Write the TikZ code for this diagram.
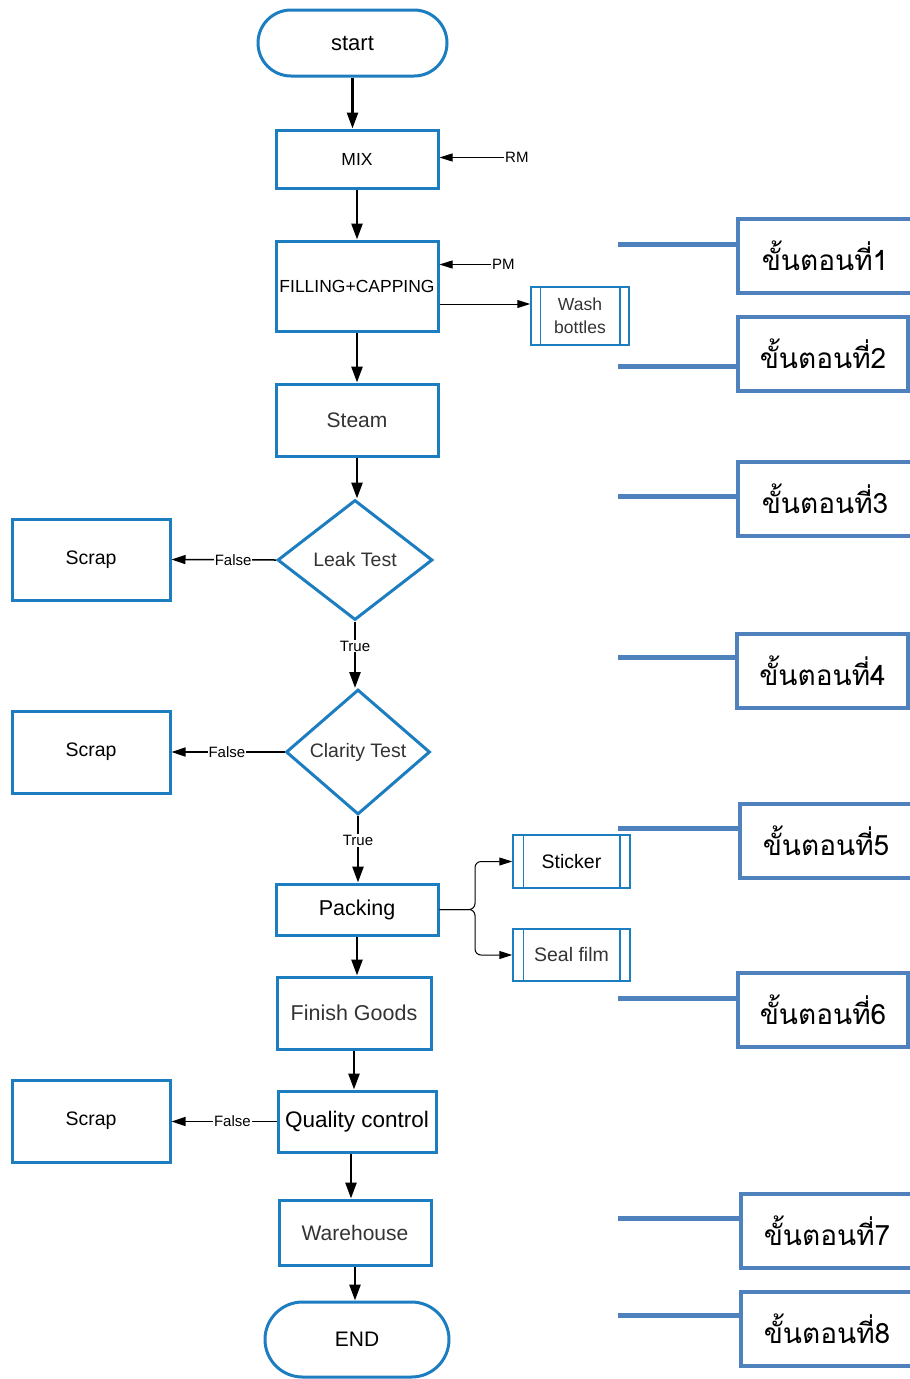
\documentclass[tikz,border=0pt]{standalone}
\usepackage{fontspec}
\setmainfont{Liberation Sans}
\newfontfamily\thaifont[Script=Thai]{Loma}
\usetikzlibrary{positioning,shapes.geometric,shapes.misc,arrows.meta}
\definecolor{flowblue}{HTML}{1C7DC0}
\definecolor{stepblue}{HTML}{4F81BD}
\definecolor{textgray}{HTML}{333333}

\begin{document}
\begin{tikzpicture}[x=1pt, y=-1pt,
terminal/.style={rounded rectangle, draw=flowblue, line width=3pt, inner sep=1pt, font=\fontsize{22}{26}\selectfont},
process/.style={rectangle, draw=flowblue, line width=3pt, inner sep=1pt, minimum width=162pt, font=\fontsize{21}{25}\selectfont},
decision/.style={diamond, draw=flowblue, line width=3pt, inner sep=0pt, text=textgray, font=\fontsize{19.5}{23}\selectfont},
subproc/.style={rectangle, draw=flowblue, line width=1.5pt, inner sep=1pt, text=textgray, font=\fontsize{19.5}{23}\selectfont},
stepbox/.style={rectangle, draw=stepblue, line width=4pt, minimum height=74pt, inner sep=0pt, font=\thaifont\fontsize{28}{32}\selectfont},
lbl/.style={inner sep=1pt, font=\fontsize{15}{18}\selectfont},
flow/.style={-{Triangle[length=16pt, width=11pt]}, line width=2.5pt},
thinflow/.style={-{Triangle[length=13pt, width=8pt]}, line width=1pt},
falseflow/.style={-{Triangle[length=14pt, width=9pt]}, line width=1.5pt},
stepline/.style={draw=stepblue, line width=5pt}]

\clip (0,0) rectangle (910,1379);

% main chain
\node[terminal, minimum width=191pt, minimum height=66pt] (start) at (352.5,43) {start};
\node[process, minimum height=58pt, font=\fontsize{17.5}{21}\selectfont] (mix) at (357,159) {MIX};
\node[process, minimum height=90pt, font=\fontsize{17.5}{21}\selectfont] (fill) at (357,286) {FILLING+CAPPING};
\node[process, minimum height=72pt, text=textgray] (steam) at (357,420) {Steam};
\node[decision, minimum width=155pt, minimum height=120pt] (leak) at (355,560) {Leak Test};
\node[decision, minimum width=144pt, minimum height=125pt] (clarity) at (358,752) {Clarity Test};
\node[process, minimum height=51pt, font=\fontsize{21.5}{25}\selectfont] (pack) at (357,909.5) {Packing};
\node[process, minimum width=154pt, minimum height=72pt, text=textgray, font=\fontsize{21.5}{25}\selectfont] (finish) at (354,1013) {Finish Goods};
\node[process, minimum width=158pt, minimum height=61pt, font=\fontsize{22.5}{26}\selectfont] (qc) at (357,1121.5) {Quality control};
\node[process, minimum width=152pt, minimum height=65pt, text=textgray] (wh) at (355,1232.5) {Warehouse};
\node[terminal, minimum width=186pt, minimum height=75pt, font=\fontsize{21}{25}\selectfont] (end) at (357,1339.5) {END};

% scrap boxes
\node[process, minimum width=158pt, minimum height=81pt, font=\fontsize{19.5}{23}\selectfont] (scrapa) at (91,559.5) {Scrap};
\node[process, minimum width=158pt, minimum height=82pt, font=\fontsize{19.5}{23}\selectfont] (scrapb) at (91,752) {Scrap};
\node[process, minimum width=158pt, minimum height=82pt, font=\fontsize{19.5}{23}\selectfont] (scrapc) at (91,1121) {Scrap};

% side inputs
\node[lbl, anchor=west] (rm) at (504,157.5) {RM};
\node[lbl, anchor=west] (pm) at (491,264.5) {PM};
\node[subproc, minimum width=98pt, minimum height=58pt, align=center, font=\fontsize{17.5}{23}\selectfont] (wash) at (580,316) {Wash\\bottles};
\node[subproc, minimum width=117pt, minimum height=53pt, text=black] (sticker) at (571.5,861.5) {Sticker};
\node[subproc, minimum width=117pt, minimum height=52pt] (seal) at (571.5,955) {Seal film};
\coordinate (fork) at (475,909.5);

\draw[flowblue, line width=1.5pt] ([xshift=10pt]wash.north west) -- ([xshift=10pt]wash.south west);
\draw[flowblue, line width=1.5pt] ([xshift=-10pt]wash.north east) -- ([xshift=-10pt]wash.south east);
\draw[flowblue, line width=1.5pt] ([xshift=11pt]sticker.north west) -- ([xshift=11pt]sticker.south west);
\draw[flowblue, line width=1.5pt] ([xshift=-11pt]sticker.north east) -- ([xshift=-11pt]sticker.south east);
\draw[flowblue, line width=1.5pt] ([xshift=11pt]seal.north west) -- ([xshift=11pt]seal.south west);
\draw[flowblue, line width=1.5pt] ([xshift=-11pt]seal.north east) -- ([xshift=-11pt]seal.south east);

% arrows
\draw[flow] (start.south) -- (start.south |- mix.north);
\draw[flow] (mix.south) -- (mix.south |- fill.north);
\draw[flow] (fill.south) -- (fill.south |- steam.north);
\draw[flow] (steam.south) -- (steam.south |- leak.north);
\draw[flow] (leak.south) -- node[lbl, fill=white, pos=0.37] {True} (leak.south |- clarity.north);
\draw[flow] (clarity.south) -- node[lbl, fill=white, pos=0.37] {True} (clarity.south |- pack.north);
\draw[flow] (pack.south) -- (pack.south |- finish.north);
\draw[flow] (finish.south) -- (finish.south |- qc.north);
\draw[flow] ([xshift=-6pt]qc.south) -- ([xshift=-6pt]qc.south |- wh.north);
\draw[flow] (wh.south) -- (wh.south |- end.north);

\draw[falseflow] (leak.west) -- node[lbl, fill=white, pos=0.41] {False} (scrapa.east);
\draw[falseflow] (clarity.west) -- node[lbl, fill=white, pos=0.51] {False} (clarity.west -| scrapb.east);
\draw[falseflow] (qc.west) -- node[lbl, fill=white, pos=0.42] {False} (qc.west -| scrapc.east);

\draw[thinflow] (rm.west) -- (rm.west -| mix.east);
\draw[thinflow] (pm.west) -- (pm.west -| fill.east);
\draw[thinflow] ([yshift=-18pt]fill.east) -- ([yshift=-18pt]fill.east -| wash.west);
\draw[thinflow, rounded corners=6pt] (pack.east) -- (fork) |- (sticker.west);
\draw[thinflow, rounded corners=6pt] (pack.east) -- (fork) |- (seal.west);

% step labels
\node[stepbox, minimum width=174pt] (s1) at (825,256) {ขั้นตอนที่1};
\node[stepbox, minimum width=170pt] (s2) at (823,354) {ขั้นตอนที่2};
\node[stepbox, minimum width=174pt] (s3) at (825,499) {ขั้นตอนที่3};
\node[stepbox, minimum width=171pt] (s4) at (822.5,670.5) {ขั้นตอนที่4};
\node[stepbox, minimum width=172pt] (s5) at (826,840.5) {ขั้นตอนที่5};
\node[stepbox, minimum width=170pt] (s6) at (823,1009.5) {ขั้นตอนที่6};
\node[stepbox, minimum width=172pt] (s7) at (827,1230.5) {ขั้นตอนที่7};
\node[stepbox, minimum width=172pt] (s8) at (827,1328.5) {ขั้นตอนที่8};

\coordinate (l1) at (618,244);
\coordinate (l2) at (618,366);
\coordinate (l3) at (618,496);
\coordinate (l4) at (618,657);
\coordinate (l5) at (618,828);
\coordinate (l6) at (618,998);
\coordinate (l7) at (618,1218);
\coordinate (l8) at (618,1315);
\draw[stepline] (l1) -- (l1 -| s1.west);
\draw[stepline] (l2) -- (l2 -| s2.west);
\draw[stepline] (l3) -- (l3 -| s3.west);
\draw[stepline] (l4) -- (l4 -| s4.west);
\draw[stepline] (l5) -- (l5 -| s5.west);
\draw[stepline] (l6) -- (l6 -| s6.west);
\draw[stepline] (l7) -- (l7 -| s7.west);
\draw[stepline] (l8) -- (l8 -| s8.west);
\end{tikzpicture}
\end{document}
